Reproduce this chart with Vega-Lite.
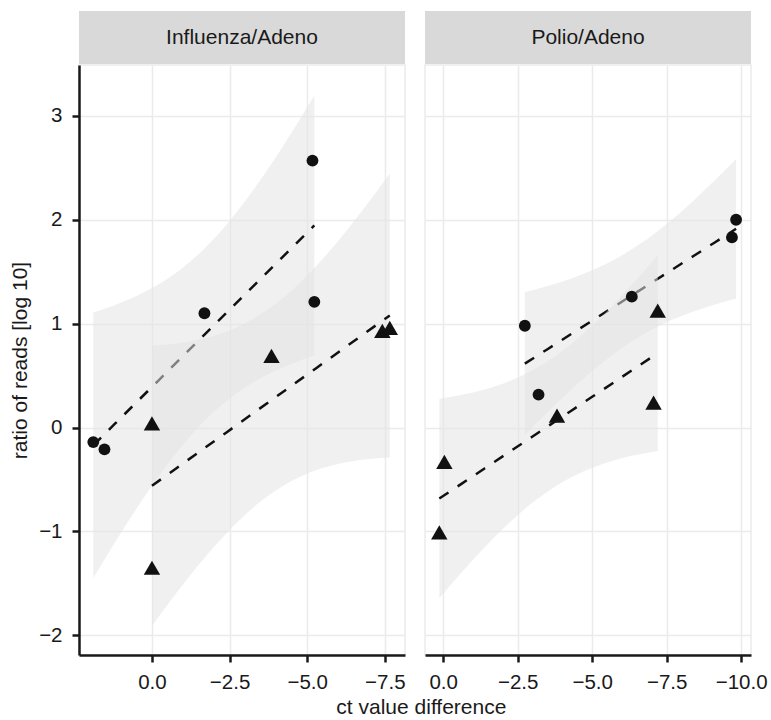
{
  "$schema": "https://vega.github.io/schema/vega-lite/v6.json",
  "padding": {"left": 8, "top": 11, "right": 5, "bottom": 0},
  "background": "white",
  "datasets": {
    "pts": [
      {"panel": "Influenza/Adeno", "group": "circle", "x": 1.89, "y": -0.14},
      {"panel": "Influenza/Adeno", "group": "circle", "x": 1.53, "y": -0.21},
      {"panel": "Influenza/Adeno", "group": "circle", "x": -1.69, "y": 1.10},
      {"panel": "Influenza/Adeno", "group": "circle", "x": -5.17, "y": 2.57},
      {"panel": "Influenza/Adeno", "group": "circle", "x": -5.23, "y": 1.21},
      {"panel": "Influenza/Adeno", "group": "triangle", "x": 0.0, "y": 0.04},
      {"panel": "Influenza/Adeno", "group": "triangle", "x": 0.0, "y": -1.35},
      {"panel": "Influenza/Adeno", "group": "triangle", "x": -3.85, "y": 0.69},
      {"panel": "Influenza/Adeno", "group": "triangle", "x": -7.42, "y": 0.93},
      {"panel": "Influenza/Adeno", "group": "triangle", "x": -7.66, "y": 0.96},
      {"panel": "Polio/Adeno", "group": "circle", "x": -2.74, "y": 0.98},
      {"panel": "Polio/Adeno", "group": "circle", "x": -6.33, "y": 1.26},
      {"panel": "Polio/Adeno", "group": "circle", "x": -9.83, "y": 2.00},
      {"panel": "Polio/Adeno", "group": "circle", "x": -9.69, "y": 1.83},
      {"panel": "Polio/Adeno", "group": "circle", "x": -3.20, "y": 0.317},
      {"panel": "Polio/Adeno", "group": "triangle", "x": -0.04, "y": -0.33},
      {"panel": "Polio/Adeno", "group": "triangle", "x": 0.13, "y": -1.01},
      {"panel": "Polio/Adeno", "group": "triangle", "x": -3.82, "y": 0.115},
      {"panel": "Polio/Adeno", "group": "triangle", "x": -7.06, "y": 0.24},
      {"panel": "Polio/Adeno", "group": "triangle", "x": -7.20, "y": 1.125}
    ],
    "fit": [
      {"panel": "Influenza/Adeno", "group": "circle", "x": 1.89, "fit": -0.171, "lo": -1.449, "hi": 1.107},
      {"panel": "Influenza/Adeno", "group": "circle", "x": 1.2, "fit": 0.034, "lo": -1.109, "hi": 1.178},
      {"panel": "Influenza/Adeno", "group": "circle", "x": 0.5, "fit": 0.242, "lo": -0.781, "hi": 1.266},
      {"panel": "Influenza/Adeno", "group": "circle", "x": -0.2, "fit": 0.450, "lo": -0.476, "hi": 1.376},
      {"panel": "Influenza/Adeno", "group": "circle", "x": -0.9, "fit": 0.658, "lo": -0.201, "hi": 1.517},
      {"panel": "Influenza/Adeno", "group": "circle", "x": -1.734, "fit": 0.906, "lo": 0.076, "hi": 1.736},
      {"panel": "Influenza/Adeno", "group": "circle", "x": -2.5, "fit": 1.134, "lo": 0.279, "hi": 1.988},
      {"panel": "Influenza/Adeno", "group": "circle", "x": -3.2, "fit": 1.342, "lo": 0.424, "hi": 2.260},
      {"panel": "Influenza/Adeno", "group": "circle", "x": -3.9, "fit": 1.550, "lo": 0.537, "hi": 2.562},
      {"panel": "Influenza/Adeno", "group": "circle", "x": -4.6, "fit": 1.758, "lo": 0.627, "hi": 2.889},
      {"panel": "Influenza/Adeno", "group": "circle", "x": -5.23, "fit": 1.945, "lo": 0.693, "hi": 3.197},
      {"panel": "Influenza/Adeno", "group": "triangle", "x": 0.0, "fit": -0.561, "lo": -1.910, "hi": 0.789},
      {"panel": "Influenza/Adeno", "group": "triangle", "x": -0.8, "fit": -0.389, "lo": -1.588, "hi": 0.810},
      {"panel": "Influenza/Adeno", "group": "triangle", "x": -1.6, "fit": -0.218, "lo": -1.288, "hi": 0.852},
      {"panel": "Influenza/Adeno", "group": "triangle", "x": -2.4, "fit": -0.047, "lo": -1.017, "hi": 0.924},
      {"panel": "Influenza/Adeno", "group": "triangle", "x": -3.2, "fit": 0.125, "lo": -0.786, "hi": 1.036},
      {"panel": "Influenza/Adeno", "group": "triangle", "x": -3.786, "fit": 0.250, "lo": -0.648, "hi": 1.148},
      {"panel": "Influenza/Adeno", "group": "triangle", "x": -4.5, "fit": 0.403, "lo": -0.515, "hi": 1.320},
      {"panel": "Influenza/Adeno", "group": "triangle", "x": -5.3, "fit": 0.574, "lo": -0.410, "hi": 1.558},
      {"panel": "Influenza/Adeno", "group": "triangle", "x": -6.1, "fit": 0.745, "lo": -0.343, "hi": 1.834},
      {"panel": "Influenza/Adeno", "group": "triangle", "x": -6.9, "fit": 0.917, "lo": -0.305, "hi": 2.138},
      {"panel": "Influenza/Adeno", "group": "triangle", "x": -7.66, "fit": 1.079, "lo": -0.288, "hi": 2.446},
      {"panel": "Polio/Adeno", "group": "circle", "x": -2.74, "fit": 0.615, "lo": -0.073, "hi": 1.303},
      {"panel": "Polio/Adeno", "group": "circle", "x": -3.5, "fit": 0.754, "lo": 0.147, "hi": 1.362},
      {"panel": "Polio/Adeno", "group": "circle", "x": -4.3, "fit": 0.901, "lo": 0.366, "hi": 1.435},
      {"panel": "Polio/Adeno", "group": "circle", "x": -5.1, "fit": 1.047, "lo": 0.568, "hi": 1.526},
      {"panel": "Polio/Adeno", "group": "circle", "x": -5.8, "fit": 1.175, "lo": 0.725, "hi": 1.625},
      {"panel": "Polio/Adeno", "group": "circle", "x": -6.358, "fit": 1.277, "lo": 0.835, "hi": 1.720},
      {"panel": "Polio/Adeno", "group": "circle", "x": -7.0, "fit": 1.395, "lo": 0.942, "hi": 1.847},
      {"panel": "Polio/Adeno", "group": "circle", "x": -7.7, "fit": 1.523, "lo": 1.039, "hi": 2.007},
      {"panel": "Polio/Adeno", "group": "circle", "x": -8.4, "fit": 1.651, "lo": 1.118, "hi": 2.184},
      {"panel": "Polio/Adeno", "group": "circle", "x": -9.1, "fit": 1.779, "lo": 1.183, "hi": 2.376},
      {"panel": "Polio/Adeno", "group": "circle", "x": -9.83, "fit": 1.913, "lo": 1.241, "hi": 2.585},
      {"panel": "Polio/Adeno", "group": "triangle", "x": 0.13, "fit": -0.684, "lo": -1.643, "hi": 0.275},
      {"panel": "Polio/Adeno", "group": "triangle", "x": -0.6, "fit": -0.545, "lo": -1.401, "hi": 0.312},
      {"panel": "Polio/Adeno", "group": "triangle", "x": -1.4, "fit": -0.392, "lo": -1.151, "hi": 0.367},
      {"panel": "Polio/Adeno", "group": "triangle", "x": -2.2, "fit": -0.239, "lo": -0.922, "hi": 0.444},
      {"panel": "Polio/Adeno", "group": "triangle", "x": -3.0, "fit": -0.086, "lo": -0.723, "hi": 0.551},
      {"panel": "Polio/Adeno", "group": "triangle", "x": -3.598, "fit": 0.028, "lo": -0.598, "hi": 0.654},
      {"panel": "Polio/Adeno", "group": "triangle", "x": -4.3, "fit": 0.162, "lo": -0.479, "hi": 0.803},
      {"panel": "Polio/Adeno", "group": "triangle", "x": -5.0, "fit": 0.296, "lo": -0.388, "hi": 0.979},
      {"panel": "Polio/Adeno", "group": "triangle", "x": -5.7, "fit": 0.429, "lo": -0.319, "hi": 1.178},
      {"panel": "Polio/Adeno", "group": "triangle", "x": -6.45, "fit": 0.573, "lo": -0.265, "hi": 1.410},
      {"panel": "Polio/Adeno", "group": "triangle", "x": -7.2, "fit": 0.716, "lo": -0.225, "hi": 1.657}
    ]
  },
  "title": {"text": "ct value difference", "orient": "bottom", "anchor": "middle", "fontSize": 21, "fontWeight": "normal", "color": "#1a1a1a", "offset": 4, "dx": 33},
  "spacing": 18,
  "hconcat": [
    {
      "spacing": 0,
      "vconcat": [
        {
          "width": 326, "height": 53,
          "view": {"fill": "#d9d9d9", "stroke": null},
          "data": {"values": [{"label": "Influenza/Adeno"}]},
          "mark": {"type": "text", "fontSize": 21, "color": "#1a1a1a", "baseline": "middle", "align": "center"},
          "encoding": {"text": {"field": "label", "type": "nominal"}}
        },
        {
          "width": 326, "height": 590,
          "layer": [
            {
              "data": {"name": "fit"},
              "transform": [{"filter": "datum.panel === 'Influenza/Adeno' && datum.group === 'circle'"}],
              "mark": {"type": "area", "color": "#e2e2e2", "opacity": 0.53, "interpolate": "monotone"},
              "encoding": {
                "x": {"field": "x", "type": "quantitative", "scale": {"domain": [2.35, -8.15], "nice": false, "zero": false}, "axis": {"values": [0, -2.5, -5, -7.5], "format": ".1f", "title": null}},
                "y": {"field": "lo", "type": "quantitative", "scale": {"domain": [-2.19, 3.49], "nice": false, "zero": false}, "axis": {"values": [-2, -1, 0, 1, 2, 3], "format": "d", "title": "ratio of reads [log 10]", "titlePadding": 8}},
                "y2": {"field": "hi"}
              }
            },
            {
              "data": {"name": "fit"},
              "transform": [{"filter": "datum.panel === 'Influenza/Adeno' && datum.group === 'circle'"}],
              "mark": {"type": "line", "color": "#111111", "strokeWidth": 2.5, "strokeDash": [11, 11]},
              "encoding": {
                "x": {"field": "x", "type": "quantitative"},
                "y": {"field": "fit", "type": "quantitative"}
              }
            },
            {
              "data": {"name": "fit"},
              "transform": [{"filter": "datum.panel === 'Influenza/Adeno' && datum.group === 'triangle'"}],
              "mark": {"type": "area", "color": "#e2e2e2", "opacity": 0.53, "interpolate": "monotone"},
              "encoding": {
                "x": {"field": "x", "type": "quantitative"},
                "y": {"field": "lo", "type": "quantitative"},
                "y2": {"field": "hi"}
              }
            },
            {
              "data": {"name": "fit"},
              "transform": [{"filter": "datum.panel === 'Influenza/Adeno' && datum.group === 'triangle'"}],
              "mark": {"type": "line", "color": "#111111", "strokeWidth": 2.5, "strokeDash": [11, 11]},
              "encoding": {
                "x": {"field": "x", "type": "quantitative"},
                "y": {"field": "fit", "type": "quantitative"}
              }
            },
            {
              "data": {"name": "pts"},
              "transform": [{"filter": "datum.panel === 'Influenza/Adeno'"}],
              "mark": {"type": "point", "filled": true, "opacity": 1, "color": "#111111"},
              "encoding": {
                "x": {"field": "x", "type": "quantitative"},
                "y": {"field": "y", "type": "quantitative"},
                "shape": {"field": "group", "type": "nominal", "scale": {"domain": ["circle", "triangle"], "range": ["circle", "triangle-up"]}, "legend": null},
                "size": {"field": "group", "type": "nominal", "scale": {"domain": ["circle", "triangle"], "range": [140, 270]}, "legend": null}
              }
            }
          ]
        }
      ]
    },
    {
      "spacing": 0,
      "vconcat": [
        {
          "width": 326, "height": 53,
          "view": {"fill": "#d9d9d9", "stroke": null},
          "data": {"values": [{"label": "Polio/Adeno"}]},
          "mark": {"type": "text", "fontSize": 21, "color": "#1a1a1a", "baseline": "middle", "align": "center"},
          "encoding": {"text": {"field": "label", "type": "nominal"}}
        },
        {
          "width": 326, "height": 590,
          "layer": [
            {
              "data": {"name": "fit"},
              "transform": [{"filter": "datum.panel === 'Polio/Adeno' && datum.group === 'circle'"}],
              "mark": {"type": "area", "color": "#e2e2e2", "opacity": 0.53, "interpolate": "monotone"},
              "encoding": {
                "x": {"field": "x", "type": "quantitative", "scale": {"domain": [0.61, -10.33], "nice": false, "zero": false}, "axis": {"values": [0, -2.5, -5, -7.5, -10], "format": ".1f", "title": null}},
                "y": {"field": "lo", "type": "quantitative", "scale": {"domain": [-2.19, 3.49], "nice": false, "zero": false}, "axis": {"values": [-2, -1, 0, 1, 2, 3], "title": null, "labels": false, "ticks": false, "domain": false}},
                "y2": {"field": "hi"}
              }
            },
            {
              "data": {"name": "fit"},
              "transform": [{"filter": "datum.panel === 'Polio/Adeno' && datum.group === 'circle'"}],
              "mark": {"type": "line", "color": "#111111", "strokeWidth": 2.5, "strokeDash": [11, 11]},
              "encoding": {
                "x": {"field": "x", "type": "quantitative"},
                "y": {"field": "fit", "type": "quantitative"}
              }
            },
            {
              "data": {"name": "fit"},
              "transform": [{"filter": "datum.panel === 'Polio/Adeno' && datum.group === 'triangle'"}],
              "mark": {"type": "area", "color": "#e2e2e2", "opacity": 0.53, "interpolate": "monotone"},
              "encoding": {
                "x": {"field": "x", "type": "quantitative"},
                "y": {"field": "lo", "type": "quantitative"},
                "y2": {"field": "hi"}
              }
            },
            {
              "data": {"name": "fit"},
              "transform": [{"filter": "datum.panel === 'Polio/Adeno' && datum.group === 'triangle'"}],
              "mark": {"type": "line", "color": "#111111", "strokeWidth": 2.5, "strokeDash": [11, 11]},
              "encoding": {
                "x": {"field": "x", "type": "quantitative"},
                "y": {"field": "fit", "type": "quantitative"}
              }
            },
            {
              "data": {"name": "pts"},
              "transform": [{"filter": "datum.panel === 'Polio/Adeno'"}],
              "mark": {"type": "point", "filled": true, "opacity": 1, "color": "#111111"},
              "encoding": {
                "x": {"field": "x", "type": "quantitative"},
                "y": {"field": "y", "type": "quantitative"},
                "shape": {"field": "group", "type": "nominal", "scale": {"domain": ["circle", "triangle"], "range": ["circle", "triangle-up"]}, "legend": null},
                "size": {"field": "group", "type": "nominal", "scale": {"domain": ["circle", "triangle"], "range": [140, 270]}, "legend": null}
              }
            }
          ]
        }
      ]
    }
  ],
  "config": {
    "font": "Liberation Sans",
    "view": {"stroke": "#ebebeb", "strokeWidth": 1.5},
    "axis": {
      "labelFontSize": 20.5, "titleFontSize": 21, "labelColor": "#1a1a1a", "titleColor": "#1a1a1a", "titleFontWeight": "normal",
      "gridColor": "#ebebeb", "gridWidth": 1.5, "domainColor": "#1a1a1a", "domainWidth": 2.5,
      "tickColor": "#1a1a1a", "tickWidth": 2.5, "tickSize": 7, "labelPadding": 10
    }
  }
}
